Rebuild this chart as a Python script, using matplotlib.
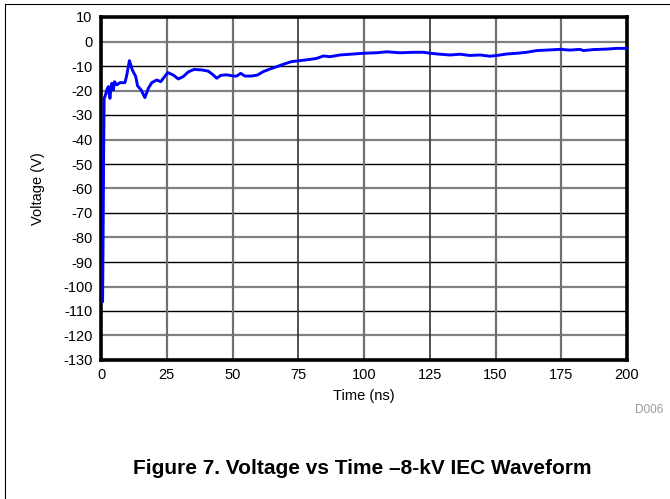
import matplotlib
matplotlib.use("Agg")
import matplotlib.pyplot as plt
from matplotlib.lines import Line2D

plt.rcParams['font.family'] = ['Liberation Sans', 'DejaVu Sans']
plt.rcParams['axes.unicode_minus'] = False

# Waveform data (time in ns, voltage in V)
time_ns = [0.6, 0.8, 1.0, 1.2, 1.5, 1.9, 2.3, 2.8, 3.1, 3.4, 3.8, 4.1, 4.7, 5.1, 6.0, 7.2,
           9.1, 9.8, 10.8, 11.9, 13.2, 13.9, 15.2, 16.7, 18.0, 19.3, 21.2, 22.7, 23.7,
           25.4, 27.5, 29.4, 31.3, 33.2, 35.4, 38.3, 40.8, 42.7, 44.0, 45.6, 47.8, 50.3,
           51.6, 53.1, 54.7, 57.3, 59.5, 61.7, 64.3, 66.8, 69.3, 72.5, 75.7, 79.5, 82.0,
           84.6, 87.1, 90.9, 94.7, 99.8, 104.8, 108.6, 113.7, 118.8, 122.6, 125.1, 128.9,
           132.7, 136.5, 140.3, 144.1, 147.9, 150.5, 154.3, 158.1, 161.9, 165.7, 169.5,
           174.5, 178.3, 182.1, 183.4, 187.2, 192.3, 196.1, 200.0]
voltage_v = [-106, -80, -45, -23, -22.5, -21.1, -19.5, -18.4, -21.0, -23.2, -19.0, -17.1,
             -19.8, -16.4, -17.7, -16.8, -16.8, -13.7, -7.8, -11.6, -14.3, -18.1, -19.7,
             -22.9, -19.1, -16.8, -15.7, -16.4, -15.0, -12.7, -13.7, -15.3, -14.3, -12.4,
             -11.4, -11.6, -12.1, -13.7, -15.0, -13.8, -13.6, -14.1, -14.1, -13.0, -14.1,
             -14.1, -13.7, -12.3, -11.2, -10.3, -9.3, -8.2, -7.8, -7.3, -6.9, -5.9, -6.2,
             -5.5, -5.2, -4.8, -4.6, -4.2, -4.6, -4.4, -4.4, -4.8, -5.2, -5.5, -5.2, -5.7,
             -5.5, -6.0, -5.7, -5.1, -4.8, -4.4, -3.7, -3.5, -3.2, -3.5, -3.2, -3.7, -3.3,
             -3.1, -2.8, -2.8]

x_ticks = [0, 25, 50, 75, 100, 125, 150, 175, 200]
y_ticks = [10, 0, -10, -20, -30, -40, -50, -60, -70, -80, -90, -100, -110, -120, -130]
x_label = "Time (ns)"
y_label = "Voltage (V)"
title = "Figure 7. Voltage vs Time \u20138-kV IEC Waveform"

fig = plt.figure(figsize=(6.70, 4.99), dpi=100)
ax = fig.add_axes([101/670, 1-360/499, (627-101)/670, (360-17)/499])
ax.set_xlim(0, 200)
ax.set_ylim(-130, 10)

# grid lines
for yv in y_ticks[1:-1]:
    if yv % 20 == 0:
        ax.axhline(yv, color='#808080', lw=1.6, zorder=1)
    else:
        ax.axhline(yv, color='black', lw=1.0, zorder=1)
for xv in x_ticks[1:-1]:
    if xv in (75, 125):
        ax.axvline(xv, color='#333333', lw=1.2, zorder=1)
    else:
        ax.axvline(xv, color='#707070', lw=1.6, zorder=1)

ax.plot(time_ns, voltage_v, color='#0000ff', lw=2.1, zorder=3)

ax.set_xticks(x_ticks)
ax.set_yticks(y_ticks)
ax.tick_params(axis='both', length=0, labelsize=10.5, pad=6)
for s in ax.spines.values():
    s.set_linewidth(2.6)
    s.set_color('black')
ax.set_xlabel(x_label, fontsize=10.5, labelpad=5)
ax.set_ylabel(y_label, fontsize=10.5, labelpad=13)

fig.text(663/670, 1-410/499, "D006", color='#999999', fontsize=8.5, ha='right', va='center')
fig.text(362/670, 1-468/499, title, fontsize=15, fontweight='bold', ha='center', va='center')

# outer frame
fig.add_artist(Line2D([5/670, 5/670], [0, 1-4/499], transform=fig.transFigure, color='black', lw=0.8))
fig.add_artist(Line2D([5/670, 1], [1-4/499, 1-4/499], transform=fig.transFigure, color='black', lw=0.8))

fig.savefig("out.png", dpi=100)
